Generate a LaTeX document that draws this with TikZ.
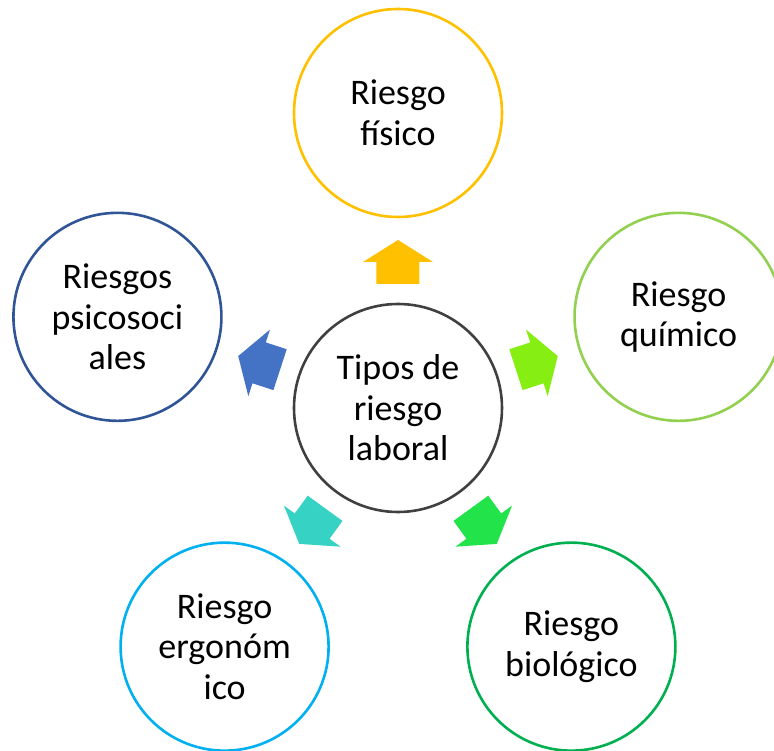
\documentclass[tikz,border=0pt]{standalone}
\usepackage{fontspec}
\setmainfont{Carlito}
\definecolor{ringyellow}{HTML}{FFC000}
\definecolor{ringlime}{HTML}{92D050}
\definecolor{ringgreen}{HTML}{00B050}
\definecolor{ringcyan}{HTML}{00B0F0}
\definecolor{ringblue}{HTML}{2F5597}
\definecolor{ringgray}{HTML}{404040}
\definecolor{arrowyellow}{HTML}{FFC000}
\definecolor{arrowlime}{HTML}{86EE12}
\definecolor{arrowgreen}{HTML}{22E34A}
\definecolor{arrowteal}{HTML}{36D3C5}
\definecolor{arrowblue}{HTML}{4472C4}
\tikzset{
  riskcircle/.style={circle, draw=#1, line width=2.6pt, minimum size=208pt,
    inner sep=0pt, align=center, font=\fontsize{36}{40.5}\selectfont},
}
\begin{document}
\begin{tikzpicture}[x=1pt, y=1pt]
      \useasboundingbox (-398,-343) rectangle (376,408);

      \node[riskcircle=ringgray] (centre) at (0,0) {Tipos de\\riesgo\\laboral};

      \node[riskcircle=ringyellow] (fisico) at (90:295) {Riesgo\\físico};
      \node[riskcircle=ringlime] (quimico) at (18:295) {Riesgo\\químico};
      \node[riskcircle=ringgreen] (biologico) at (-54:295) {Riesgo\\biológico};
      \node[riskcircle=ringcyan] (ergonomico) at (-126:295) {Riesgo\\ergonóm\\ico};
      \node[riskcircle=ringblue] (psicosocial) at (162:295) {Riesgos\\psicosoci\\ales};

      % block arrows from the centre outwards
      \foreach \ang/\col in {90/arrowyellow, 18/arrowlime, -54/arrowgreen,
                             -126/arrowteal, 162/arrowblue}
        \fill[\col, rotate=\ang] (124,-21.5) -- (146,-21.5) -- (146,-35)
          -- (168,0) -- (146,35) -- (146,21.5) -- (124,21.5) -- cycle;

\end{tikzpicture}
\end{document}
